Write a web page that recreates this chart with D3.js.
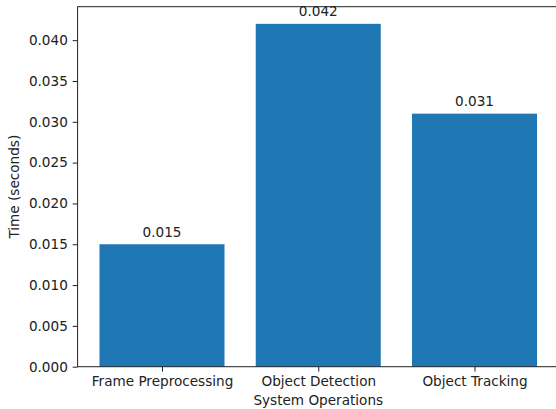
<!DOCTYPE html>
<html><head><meta charset="utf-8">
<script src="https://cdn.jsdelivr.net/npm/d3@7"></script>
<style>body{margin:0;background:#fff}svg{display:block}text{font-family:"DejaVu Sans",sans-serif;fill:#222}</style>
</head><body>
<script>
const categories = ["Frame Preprocessing", "Object Detection", "Object Tracking"];
const values = [0.015, 0.042, 0.031];
const yTicks = [0, 0.005, 0.010, 0.015, 0.020, 0.025, 0.030, 0.035, 0.040];

const W = 556, H = 409;
const m = {left: 77.6, right: 558.9, top: 6.7, bottom: 366.7};
const FS = "13.6px";
const svg = d3.select("body").append("svg").attr("width", W).attr("height", H);

const x = d3.scaleLinear().domain([-0.54, 2.54]).range([m.left, m.right]);
const y = d3.scaleLinear().domain([0, 0.0441]).range([m.bottom, m.top]);
const bw = x(0.8) - x(0);

svg.selectAll("rect.bar").data(values).enter().append("rect")
  .attr("class", "bar")
  .attr("x", (d, i) => x(i) - bw / 2)
  .attr("width", bw)
  .attr("y", d => y(d))
  .attr("height", d => m.bottom - y(d))
  .attr("fill", "#1f77b4");

svg.selectAll("text.val").data(values).enter().append("text")
  .attr("class", "val")
  .attr("x", (d, i) => x(i))
  .attr("y", d => y(d) - 7.5)
  .attr("text-anchor", "middle")
  .attr("font-size", FS)
  .text(d => d.toFixed(3));

// axes
const yAxis = d3.axisLeft(y).tickValues(yTicks).tickFormat(d3.format(".3f")).tickSize(4.9).tickPadding(4.9);
const gy = svg.append("g").attr("transform", `translate(${m.left},0)`).call(yAxis);
gy.select(".domain").remove();
gy.selectAll("text").attr("font-size", FS).style("fill", "#222");
gy.selectAll("line").attr("stroke", "#222").attr("stroke-width", 1);

const xAxis = d3.axisBottom(x).tickValues([0, 1, 2]).tickFormat(i => categories[i]).tickSize(4.9).tickPadding(4.9);
const gx = svg.append("g").attr("transform", `translate(0,${m.bottom})`).call(xAxis);
gx.select(".domain").remove();
gx.selectAll("text").attr("font-size", FS).style("fill", "#222");
gx.selectAll("line").attr("stroke", "#222").attr("stroke-width", 1);

// spines
svg.append("rect").attr("x", m.left).attr("y", m.top)
  .attr("width", m.right - m.left).attr("height", m.bottom - m.top)
  .attr("fill", "none").attr("stroke", "#222").attr("stroke-width", 1);

svg.append("text").attr("x", (m.left + m.right) / 2).attr("y", 405)
  .attr("text-anchor", "middle").attr("font-size", FS).text("System Operations");
svg.append("text").attr("transform", `translate(19,${(m.top + m.bottom) / 2}) rotate(-90)`)
  .attr("text-anchor", "middle").attr("font-size", FS).text("Time (seconds)");
</script>
</body></html>
